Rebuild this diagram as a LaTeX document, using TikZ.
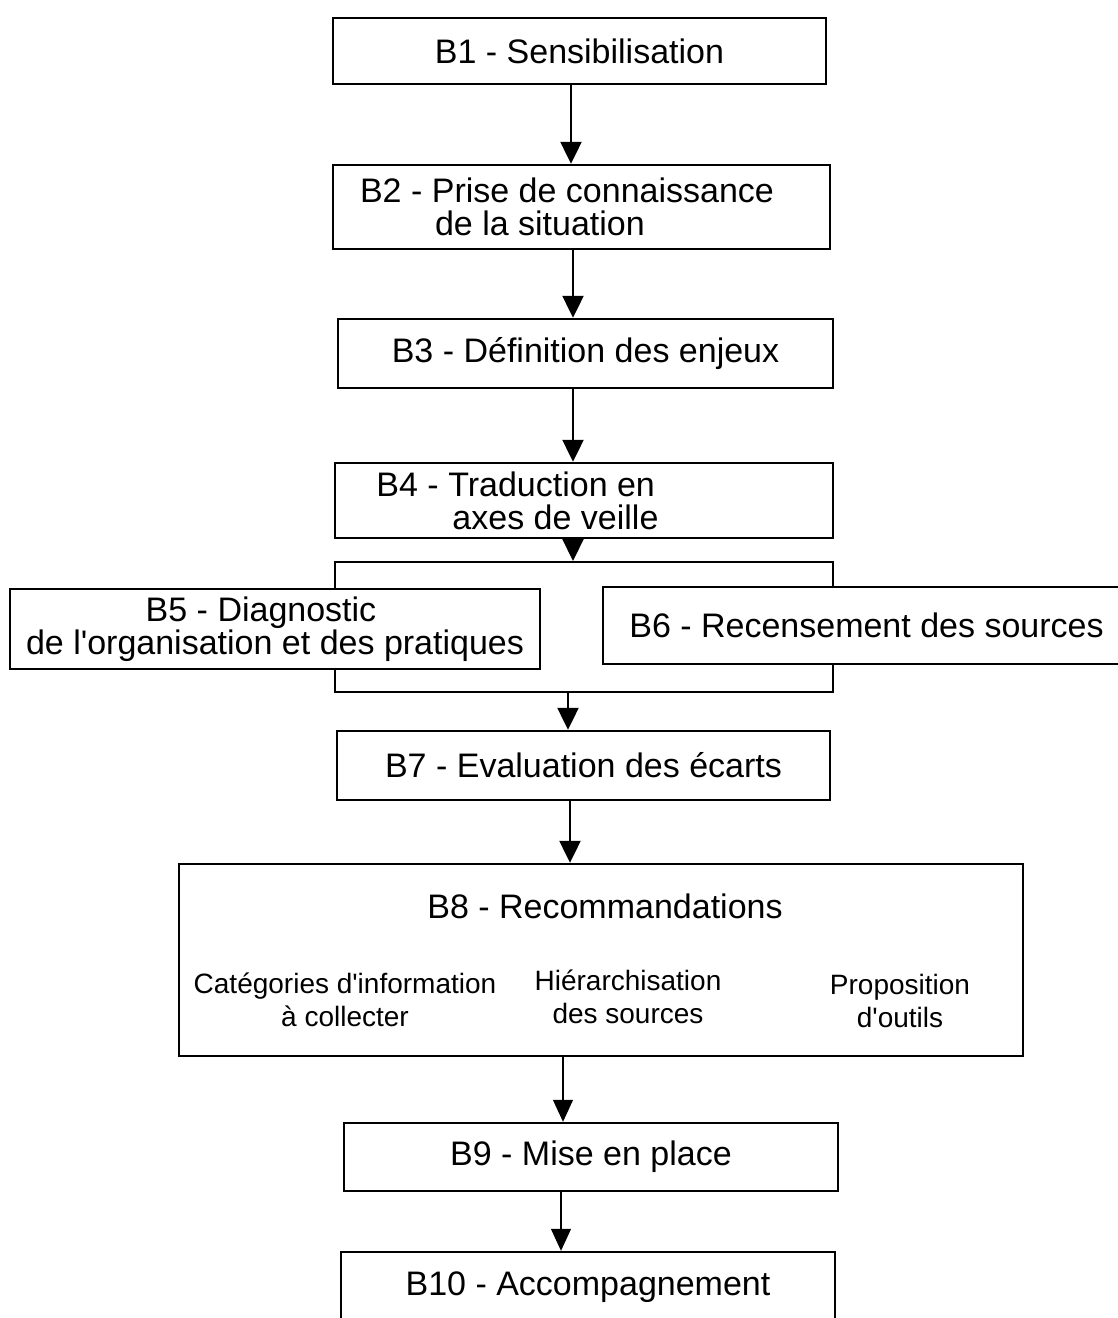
\documentclass[tikz,border=0pt]{standalone}
\usepackage{fontspec}
\setmainfont{Liberation Sans}
\usetikzlibrary{arrows.meta}
\begin{document}
\begin{tikzpicture}[x=0.5pt,y=-0.5pt,
  box/.style={draw,line width=1.2pt,fill=white,inner sep=0pt,font=\fontsize{17}{16.5}\selectfont},
  grpbox/.style={draw,line width=1pt,inner sep=0pt},
  arr/.style={line width=1.1pt,-{Triangle[length=11pt,width=10.5pt]}},
  thinarr/.style={line width=0.6pt,-{Triangle[length=11pt,width=10pt]}},
  title/.style={inner sep=0pt,font=\fontsize{17}{16.5}\selectfont},
  sub/.style={align=center,inner sep=0pt,font=\fontsize{14}{16.5}\selectfont}]
\useasboundingbox (0,0) rectangle (1118,1318);
% boxes
\node[box,minimum width=246.5pt,minimum height=33pt] (b1) at (579.5,51) {B1 - Sensibilisation};
\node[box,align=left,minimum width=248.5pt,minimum height=42pt] (b2) at (581.5,207)
  {B2 - Prise de connaissance\hspace*{14.5pt}\\\hspace*{37.5pt}de la situation};
\node[box,minimum width=247.5pt,minimum height=34.5pt] (b3) at (585.5,353.5) {B3 - Définition des enjeux};
\node[box,align=left,minimum width=249pt,minimum height=37.5pt] (b4) at (584,500.5)
  {B4 - Traduction en\\\hspace*{38pt}axes de veille\hspace*{66.5pt}};
\node[grpbox,minimum width=249pt,minimum height=65pt] (grp) at (584,627) {};
\node[box,align=center,minimum width=265pt,minimum height=40pt] (b5) at (275,629)
  {B5 - Diagnostic\hspace*{14pt}\\de l\textquotesingle organisation et des pratiques};
\node[box,minimum width=263.5pt,minimum height=38.5pt] (b6) at (866.5,625.5) {B6 - Recensement des sources};
\node[box,minimum width=246.5pt,minimum height=34.5pt] (b7) at (583.5,765.5) {B7 - Evaluation des écarts};
\node[box,minimum width=422pt,minimum height=96pt] (b8) at (601,960) {};
\node[title] (b8t) at (605,906) {B8 - Recommandations};
\node[sub] (s1) at (345,1000) {Catégories d\textquotesingle information\\à collecter};
\node[sub] (s2) at (628,997) {Hiérarchisation\\des sources};
\node[sub] (s3) at (900,1001) {Proposition\\d\textquotesingle outils};
\node[box,minimum width=247pt,minimum height=34pt] (b9) at (591,1157) {B9 - Mise en place};
\node[box,minimum width=247pt,minimum height=35pt] (b10) at (588,1287) {B10 - Accompagnement};
% connectors
\draw[arr] (571,0 |- b1.south) -- (571,0 |- b2.north);
\draw[arr] (573,0 |- b2.south) -- (573,0 |- b3.north);
\draw[arr] (573,0 |- b3.south) -- (573,0 |- b4.north);
\draw[arr] (573,0 |- b4.south) -- (573,0 |- grp.north);
\draw[arr] (568,0 |- grp.south) -- (568,0 |- b7.north);
\draw[arr] (570,0 |- b7.south) -- (570,0 |- b8.north);
\draw[thinarr] (563,0 |- b8.south) -- (563,0 |- b9.north);
\draw[thinarr] (561,0 |- b9.south) -- (561,0 |- b10.north);
\end{tikzpicture}
\end{document}
